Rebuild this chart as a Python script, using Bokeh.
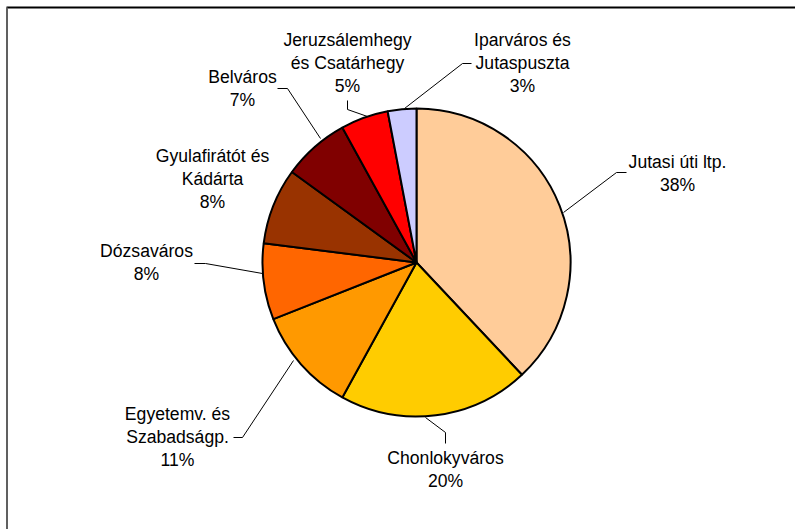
import math

from bokeh.core.properties import value
from bokeh.embed import file_html
from bokeh.models import ColumnDataSource, Range1d
from bokeh.plotting import figure
from bokeh.resources import INLINE

# Share of residents by district (percent), clockwise from 12 o'clock
districts = [
    "Jutasi úti ltp.",
    "Chonlokyváros",
    "Egyetemv. és\nSzabadságp.",
    "Dózsaváros",
    "Gyulafirátót és\nKádárta",
    "Belváros",
    "Jeruzsálemhegy\nés Csatárhegy",
    "Iparváros és\nJutaspuszta",
]
shares = [38, 20, 11, 8, 8, 7, 5, 3]
colors = ["#FFCC99", "#FFCC00", "#FF9900", "#FF6600",
          "#993300", "#800000", "#FF0000", "#CCCCFF"]

W, H = 795, 529
CX, CY, R = 416, 262, 154          # pie centre / radius in page pixels (y down)
FONT = value("Liberation Sans")
FONT_SIZE = "17.6px"
LINE_STEP = 23

# label block centre (x, y of the first line), page pixels
label_pos = [
    (677, 161), (445, 457), (177, 413), (146, 250),
    (212, 155), (242, 76), (347, 39), (522, 39),
]
# leader lines from the label to the slice, page pixels
leaders = [
    [(626, 172), (616, 172), (563, 212)],
    [(445, 443), (445, 432), (425, 417)],
    [(233, 437), (242, 437), (293, 360)],
    [(194, 263), (205, 263), (262, 273)],
    None,
    [(277, 88), (287, 88), (320, 138)],
    [(347, 100), (347, 109), (367, 116)],
    [(471, 63), (462, 63), (404, 108)],
]


def fy(y):
    """Page y (down) to plot y (up)."""
    return H - y


p = figure(width=W, height=H, x_range=Range1d(0, W), y_range=Range1d(0, H),
           toolbar_location=None, output_backend="svg",
           x_axis_type=None, y_axis_type=None, min_border=0)
p.outline_line_color = None
p.grid.visible = False
p.background_fill_color = "white"
p.border_fill_color = "white"

# chart-area frame (top and left edges)
p.line([6, W], [fy(7), fy(7)], line_color="black", line_width=2)
p.line([6.5, 6.5], [fy(7), 0], line_color="#606060", line_width=2)

# wedges, clockwise from the top
total = sum(shares)
starts, ends = [], []
cum = 0.0
for s in shares:
    starts.append(math.pi / 2 - 2 * math.pi * cum / total)
    cum += s
    ends.append(math.pi / 2 - 2 * math.pi * cum / total)

src = ColumnDataSource(dict(
    x=[CX] * len(shares), y=[fy(CY)] * len(shares),
    start=starts, end=ends, color=colors,
    name=districts, share=shares,
))
p.wedge(x="x", y="y", radius=R, start_angle="start", end_angle="end",
        direction="clock", fill_color="color", line_color="black",
        line_width=2, source=src)

# leader lines
for pts in leaders:
    if pts is None:
        continue
    p.line([q[0] for q in pts], [fy(q[1]) for q in pts],
           line_color="black", line_width=1)

# labels: name lines followed by the percentage
tx, ty, tt = [], [], []
for name, share, (lx, ly) in zip(districts, shares, label_pos):
    lines = name.split("\n") + [f"{share}%"]
    for k, line in enumerate(lines):
        tx.append(lx)
        ty.append(fy(ly + k * LINE_STEP))
        tt.append(line)

p.text(x=tx, y=ty, text=tt, text_font=FONT, text_font_size=FONT_SIZE,
       text_color="black", text_align="center", text_baseline="middle")

open("out.html", "w").write(file_html(p, INLINE))
